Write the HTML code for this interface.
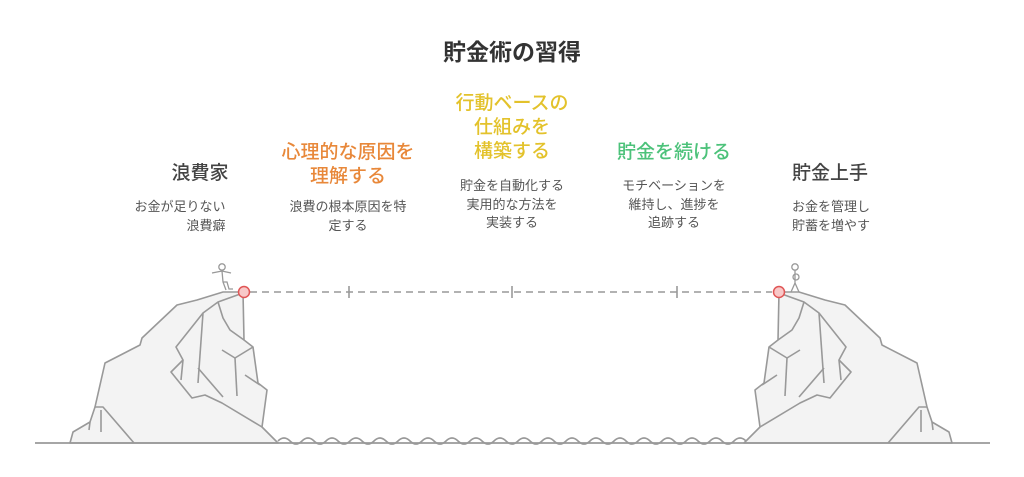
<!DOCTYPE html>
<html><head><meta charset="utf-8"><style>
html,body{margin:0;padding:0;background:#fff}
body{width:1024px;height:477px;overflow:hidden;position:relative;font-family:"Liberation Sans","Noto Sans CJK JP",sans-serif}
.t{position:absolute;text-align:center;white-space:nowrap;transform:translateX(-50%)}
.h{font-size:19px;line-height:24px;font-weight:500}
.d{font-size:13px;line-height:18.5px;color:#555}
</style></head><body>
<div class="t" style="left:512px;top:38px;font-size:23px;line-height:28px;font-weight:bold;color:#333">貯金術の習得</div>

<div class="t h" style="left:200px;top:162px;color:#444">浪費家</div>
<div class="t d" style="left:180px;top:198px;text-align:right">お金が足りない<br>　　　浪費癖</div>

<div class="t h" style="left:348px;top:141px;color:#e8883a">心理的な原因を<br>理解する</div>
<div class="t d" style="left:348px;top:198px">浪費の根本原因を特<br>定する</div>

<div class="t h" style="left:512px;top:92px;color:#e3c22b">行動ベースの<br>仕組みを<br>構築する</div>
<div class="t d" style="left:512px;top:177px">貯金を自動化する<br>実用的な方法を<br>実装する</div>

<div class="t h" style="left:674px;top:141px;color:#4cc27a">貯金を続ける</div>
<div class="t d" style="left:674px;top:177px">モチベーションを<br>維持し、進捗を<br>追跡する</div>

<div class="t h" style="left:830px;top:162px;color:#444">貯金上手</div>
<div class="t d" style="left:831px;top:198px;text-align:left">お金を管理し<br>貯蓄を増やす</div>

<svg width="1024" height="477" style="position:absolute;left:0;top:0">
<defs>
<g id="cliff" fill="none" stroke="#999" stroke-width="1.6" stroke-linejoin="round">
<path d="M70,443 L73,432 L90,422 L95,407 L105,363 L140,345 L142,338 L177,305 L197,300 L223,292 L243,292 L244,340 L253,347 L258,383 L267,390 L262,427 L278,443 Z" fill="#f3f3f3"/>
<path d="M243,293 L218,302 L203,313 L176,347 L183,360 L171,372 L192,398 L205,395 L222,403 L262,427"/>
<path d="M218,302 L223,318 L230,330 L244,340"/>
<path d="M203,313 L198,383"/>
<path d="M198,368 L223,397"/>
<path d="M183,360 L181,380"/>
<path d="M253,347 L235,358 L222,350"/>
<path d="M235,358 L237,396"/>
<path d="M245,375 L260,385"/>
<path d="M95,407 L103,407 L134,443"/>
<path d="M101,410 L101,432"/>
<path d="M90,422 L89,430"/>
</g>
</defs>
<use href="#cliff"/>
<use href="#cliff" transform="translate(1022,0) scale(-1,1)"/>
<line x1="35" y1="443" x2="990" y2="443" stroke="#999" stroke-width="1.8"/>
<path d="M278,441 q6,-6 12,0 q6,6 12,0 q6,-6 12,0 q6,6 12,0 q6,-6 12,0 q6,6 12,0 q6,-6 12,0 q6,6 12,0 q6,-6 12,0 q6,6 12,0 q6,-6 12,0 q6,6 12,0 q6,-6 12,0 q6,6 12,0 q6,-6 12,0 q6,6 12,0 q6,-6 12,0 q6,6 12,0 q6,-6 12,0 q6,6 12,0 q6,-6 12,0 q6,6 12,0 q6,-6 12,0 q6,6 12,0 q6,-6 12,0 q6,6 12,0 q6,-6 12,0 q6,6 12,0 q6,-6 12,0 q6,6 12,0 q6,-6 12,0 q6,6 12,0 q6,-6 12,0 q6,6 12,0 q6,-6 12,0 q6,6 12,0 q6,-6 12,0 q6,6 12,0 q6,-6 12,0" fill="none" stroke="#999" stroke-width="1.6"/>
<line x1="250" y1="292" x2="772" y2="292" stroke="#999" stroke-width="1.6" stroke-dasharray="7,5"/>
<g stroke="#999" stroke-width="1.6"><line x1="349" y1="286" x2="349" y2="298"/><line x1="512" y1="286" x2="512" y2="298"/><line x1="677" y1="286" x2="677" y2="298"/></g>
<circle cx="244" cy="292" r="5.5" fill="#f8c8c8" stroke="#e05555" stroke-width="1.5"/>
<circle cx="779" cy="292" r="5.5" fill="#f8c8c8" stroke="#e05555" stroke-width="1.5"/>
<g fill="none" stroke="#999" stroke-width="1.3">
<circle cx="222" cy="267" r="3.2"/>
<path d="M212,273 L222,271 L231,273 M222,271 L223,282 L226,290 M223,282 L227,282 L229,289 L233,289"/>
<circle cx="795" cy="267" r="3.2"/>
<circle cx="796" cy="277" r="3"/>
<path d="M795,270 L795,283 L791,292 M795,283 L799,292"/>
</g>
</svg>
</body></html>
